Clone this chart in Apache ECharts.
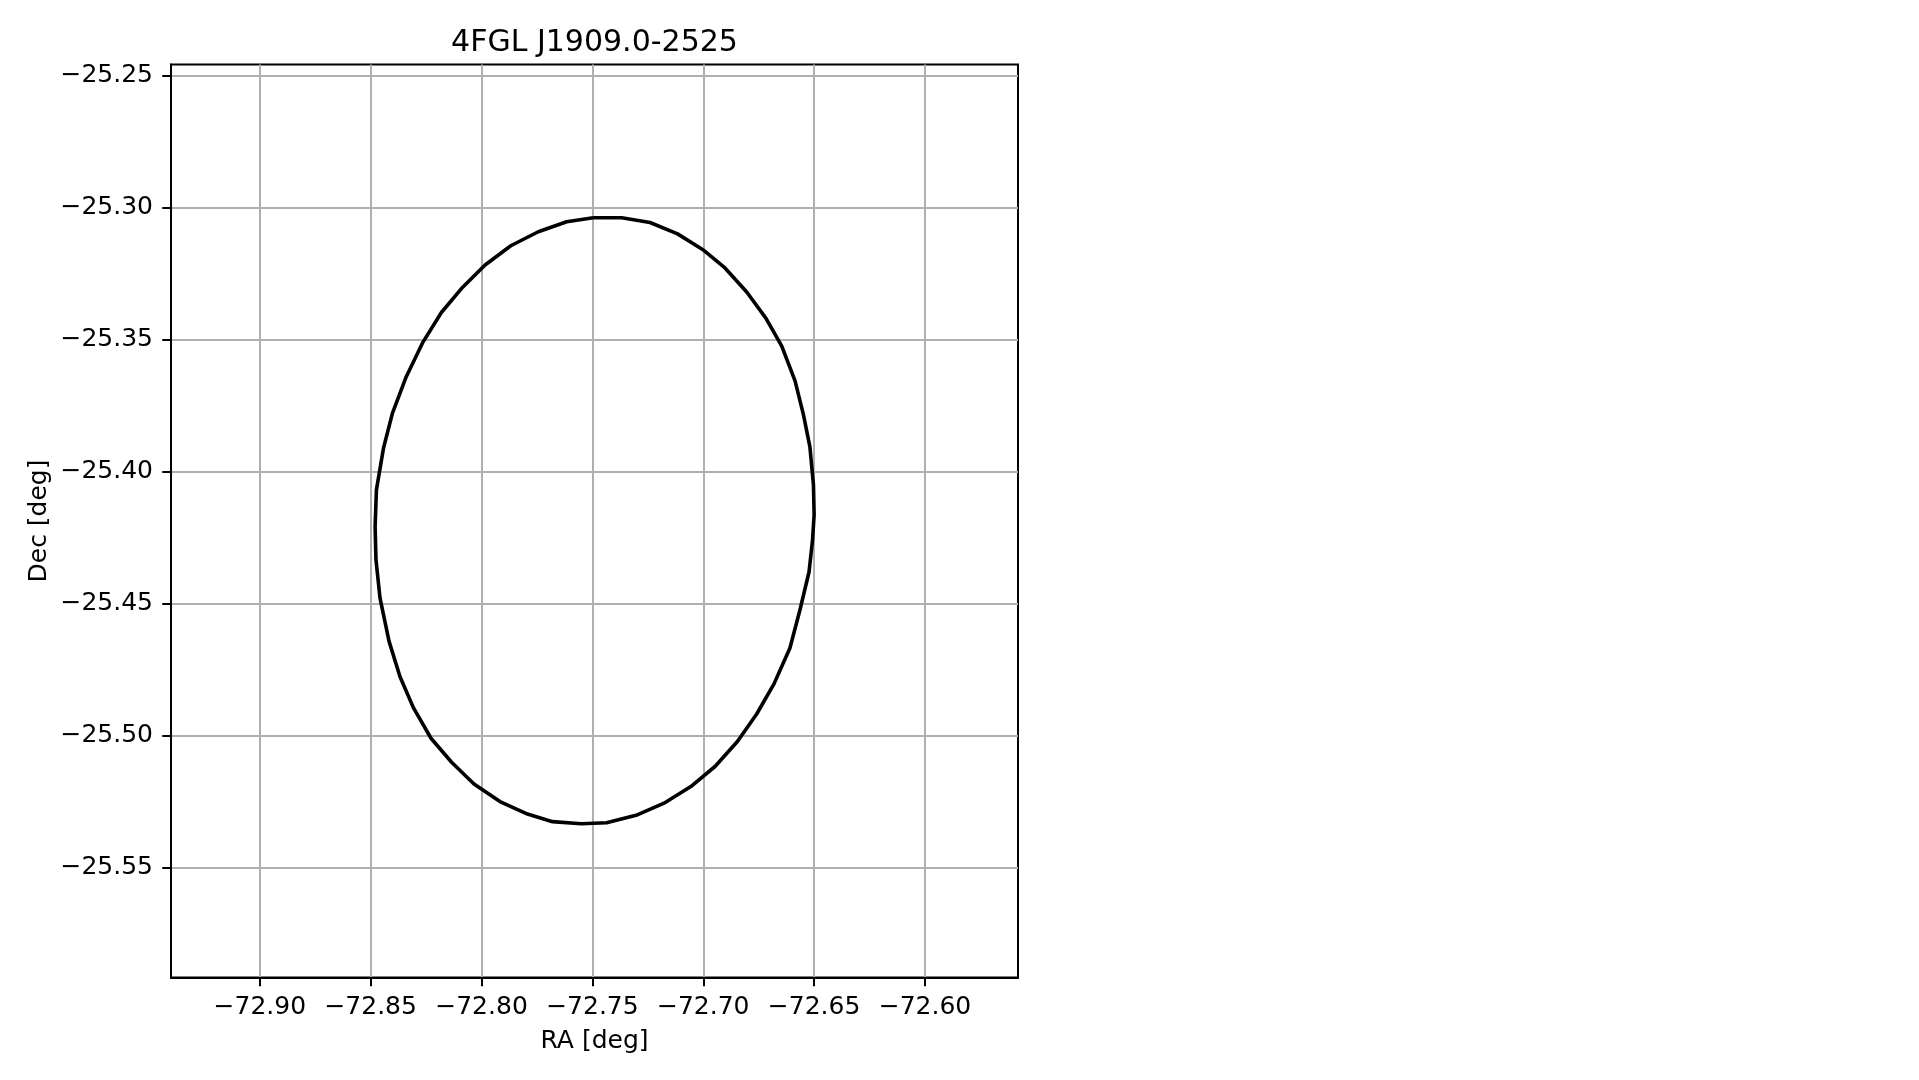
<!DOCTYPE html>
<html>
<head>
<meta charset="utf-8">
<script src="https://cdn.jsdelivr.net/npm/echarts@6/dist/echarts.min.js"></script>
<style>
html,body{margin:0;padding:0;background:#fff;}
#chart{width:1919px;height:1080px;}
</style>
</head>
<body>
<div id="chart"></div>
<script>
// ---- data ----
const chartTitle = '4FGL J1909.0-2525';
const raTicks = [-72.90, -72.85, -72.80, -72.75, -72.70, -72.65, -72.60];
const decTicks = [-25.25, -25.30, -25.35, -25.40, -25.45, -25.50, -25.55];
const raLimits = [-72.94005, -72.55805];
const decLimits = [-25.59174, -25.24583];

// ellipse contour vertices (RA, Dec), closed
const raValues = [
  -72.7496, -72.7368, -72.7240, -72.7116, -72.7003, -72.6902, -72.6804, -72.6717,
  -72.6646, -72.6586, -72.6548, -72.6519, -72.6503, -72.6500, -72.6507, -72.6523,
  -72.6564, -72.6609, -72.6681, -72.6759, -72.6846, -72.6947, -72.7056, -72.7177,
  -72.7303, -72.7436, -72.7551, -72.7680, -72.7800, -72.7917, -72.8034, -72.8135,
  -72.8228, -72.8308, -72.8368, -72.8417, -72.8458, -72.8476, -72.8480, -72.8474,
  -72.8442, -72.8402, -72.8340, -72.8264, -72.8181, -72.8086, -72.7984, -72.7868,
  -72.7744, -72.7616, -72.7496
];
const decValues = [
  -25.3039, -25.3039, -25.3057, -25.3100, -25.3159, -25.3229, -25.3320, -25.3420,
  -25.3525, -25.3657, -25.3786, -25.3907, -25.4051, -25.4165, -25.4259, -25.4381,
  -25.4525, -25.4669, -25.4805, -25.4919, -25.5023, -25.5118, -25.5194, -25.5257,
  -25.5303, -25.5331, -25.5335, -25.5327, -25.5296, -25.5251, -25.5184, -25.5102,
  -25.5011, -25.4894, -25.4777, -25.4644, -25.4479, -25.4335, -25.4209, -25.4070,
  -25.3911, -25.3780, -25.3642, -25.3510, -25.3398, -25.3303, -25.3218, -25.3145,
  -25.3092, -25.3054, -25.3039
];

const ellipseData = raValues.map((x, i) => [x, decValues[i]]);
const fmt = v => (v < 0 ? '\u2212' : '') + Math.abs(v).toFixed(2);
const FONT = 'DejaVu Sans';

const chart = echarts.init(document.getElementById('chart'), null, {renderer: 'canvas'});
chart.setOption({
  backgroundColor: '#ffffff',
  animation: false,
  title: {
    text: chartTitle,
    left: 594.5,
    top: 28,
    textAlign: 'center',
    padding: 0,
    textStyle: {fontFamily: FONT, fontSize: 30, fontWeight: 'normal', color: '#000', lineHeight: 30}
  },
  grid: {
    left: 171, top: 64.5, width: 847, height: 913,
    show: true, borderColor: '#000', borderWidth: 2, backgroundColor: 'transparent',
    containLabel: false
  },
  xAxis: {
    type: 'value',
    min: raLimits[0], max: raLimits[1],
    name: 'RA [deg]', nameLocation: 'middle', nameGap: 51,
    nameTextStyle: {fontFamily: FONT, fontSize: 25, color: '#000', lineHeight: 25},
    axisLine: {show: true, onZero: false, lineStyle: {color: '#000', width: 2}},
    axisTick: {show: true, customValues: raTicks, length: 8.75, lineStyle: {color: '#000', width: 2}},
    axisLabel: {customValues: raTicks, formatter: fmt, margin: 17.5, fontFamily: FONT, fontSize: 25, color: '#000', lineHeight: 25},
    splitLine: {show: true, lineStyle: {color: '#b0b0b0', width: 2}}
  },
  yAxis: {
    type: 'value',
    min: decLimits[0], max: decLimits[1],
    name: 'Dec [deg]', nameLocation: 'middle', nameGap: 119,
    nameTextStyle: {fontFamily: FONT, fontSize: 25, color: '#000', lineHeight: 25},
    axisLine: {show: true, onZero: false, lineStyle: {color: '#000', width: 2}},
    axisTick: {show: true, customValues: decTicks, length: 8.75, lineStyle: {color: '#000', width: 2}},
    axisLabel: {customValues: decTicks, formatter: fmt, margin: 18, fontFamily: FONT, fontSize: 25, color: '#000', lineHeight: 25},
    splitLine: {show: true, lineStyle: {color: '#b0b0b0', width: 2}}
  },
  series: [{
    type: 'line',
    data: ellipseData,
    showSymbol: false,
    smooth: false,
    clip: true,
    lineStyle: {color: '#000', width: 3.6, join: 'round'},
    z: 5
  }]
});
</script>
</body>
</html>
